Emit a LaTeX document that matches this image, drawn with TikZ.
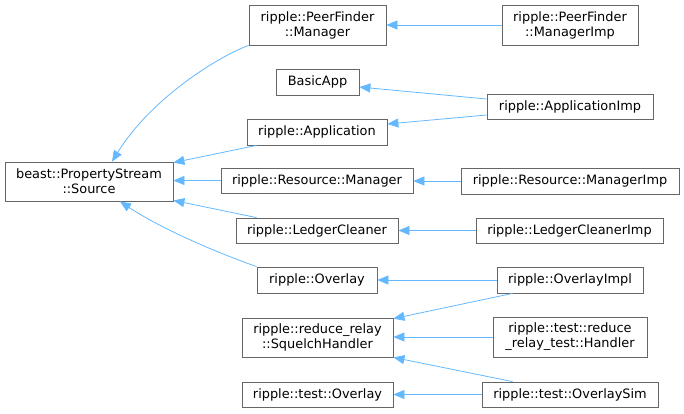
\documentclass[tikz,border=0pt]{standalone}
\usepackage{fontspec}
\setmainfont{DejaVu Sans}
\usetikzlibrary{arrows.meta,calc}
\definecolor{edgeblue}{HTML}{63B8FF}
\definecolor{boxgray}{HTML}{666666}
\begin{document}
\begin{tikzpicture}[x=1pt,y=-1pt,
  cls/.style={draw=boxgray,fill=white,line width=0.8pt,inner sep=0pt,align=center,
    font=\fontsize{12.9}{15}\selectfont},
  edge/.style={draw=edgeblue,line width=0.8pt,-{Triangle[length=11pt,width=9pt,fill=edgeblue]}}]
\useasboundingbox (0,0) rectangle (684,413);
\node[cls,minimum width=168pt,minimum height=39pt] (src) at (89,181.5) {beast::PropertyStream\\::Source};
\node[cls,minimum width=137pt,minimum height=40pt] (pfm) at (317.5,25) {ripple::PeerFinder\\::Manager};
\node[cls,minimum width=136pt,minimum height=40pt] (pfmi) at (570,25) {ripple::PeerFinder\\::ManagerImp};
\node[cls,minimum width=83pt,minimum height=26pt] (basic) at (317.5,82) {BasicApp};
\node[cls,minimum width=140pt,minimum height=26pt] (app) at (317,132) {ripple::Application};
\node[cls,minimum width=166pt,minimum height=25pt] (appimp) at (570,106.5) {ripple::ApplicationImp};
\node[cls,minimum width=192pt,minimum height=25pt] (res) at (317,180.5) {ripple::Resource::Manager};
\node[cls,minimum width=218pt,minimum height=26pt] (resi) at (570,181) {ripple::Resource::ManagerImp};
\node[cls,minimum width=162pt,minimum height=25pt] (lc) at (317,230.5) {ripple::LedgerCleaner};
\node[cls,minimum width=187pt,minimum height=25pt] (lci) at (569.5,230.5) {ripple::LedgerCleanerImp};
\node[cls,minimum width=120pt,minimum height=26pt] (ov) at (317,280) {ripple::Overlay};
\node[cls,minimum width=146pt,minimum height=26pt] (ovi) at (570,280) {ripple::OverlayImpl};
\node[cls,minimum width=151pt,minimum height=39pt] (sq) at (317.5,337.5) {ripple::reduce\_relay\\::SquelchHandler};
\node[cls,minimum width=154pt,minimum height=40pt] (hand) at (570,337) {ripple::test::reduce\\\_relay\_test::Handler};
\node[cls,minimum width=151pt,minimum height=25pt] (tov) at (317.5,394.5) {ripple::test::Overlay};
\node[cls,minimum width=176pt,minimum height=25pt] (sim) at (570,394.5) {ripple::test::OverlaySim};
% edges to Source
\draw[edge] (pfm.south west) .. controls (215,58) and (150,100) .. ([xshift=23pt]src.north);
\draw[edge] ([xshift=10pt]app.south west) -- ([yshift=-1pt]src.north east);
\draw[edge] (res.west) -- (res.west -| src.east);
\draw[edge] ([xshift=21pt]lc.north west) -- ([yshift=1pt]src.south east);
\draw[edge] (ov.north west) .. controls (215,252) and (160,228) .. ([xshift=31pt]src.south);
% right column
\draw[edge] (pfmi.west) -- (pfm.east);
\draw[edge] ([yshift=7.5pt]appimp.west) -- ([yshift=-5pt]basic.east);
\draw[edge] ([yshift=-8.5pt]appimp.west) -- ([yshift=8pt]app.east);
\draw[edge] (resi.west) -- (resi.west -| res.east);
\draw[edge] (lci.west) -- (lc.east);
\draw[edge] (ovi.west) -- (ov.east);
\draw[edge] ([xshift=16pt]ovi.south west) -- ([yshift=-1pt]sq.north east);
\draw[edge] (hand.west) -- (hand.west -| sq.east);
\draw[edge] ([xshift=31pt]sim.north west) -- (sq.south east);
\draw[edge] (sim.west) -- (tov.east);
\end{tikzpicture}
\end{document}
